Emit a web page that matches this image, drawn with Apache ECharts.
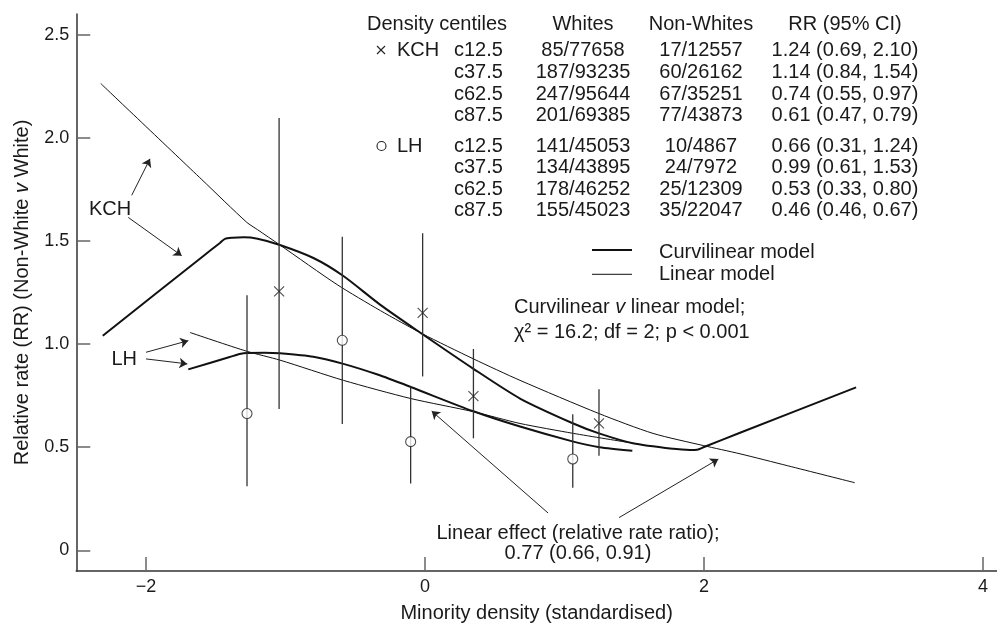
<!DOCTYPE html>
<html><head><meta charset="utf-8">
<script src="https://cdn.jsdelivr.net/npm/echarts@6/dist/echarts.min.js"></script>
<style>html,body{margin:0;padding:0;background:#fff}#c{width:997px;height:628px}</style>
</head><body><div id="c"></div>
<script>
// ---------------- data ----------------
const xTicks = [-2, 0, 2, 4];
const yTicks = [0, 0.5, 1.0, 1.5, 2.0, 2.5];

// KCH observed relative rates (x = density, y = RR) with 95% CI
const kchX  = [-1.046, -0.017, 0.347, 1.247];
const kchRR = [1.255, 1.151, 0.747, 0.615];
const kchLo = [0.685, 0.843, 0.543, 0.459];
const kchHi = [2.095, 1.537, 0.976, 0.781];

// LH observed relative rates with 95% CI
const lhX  = [-1.276, -0.593, -0.103, 1.059];
const lhRR = [0.663, 1.018, 0.527, 0.443];
const lhLo = [0.311, 0.612, 0.324, 0.303];
const lhHi = [1.236, 1.52, 0.79, 0.66];

// Fitted curves
const kchCurvX = [-2.31, -1.6, -1.47, -1.434, -1.38, -1.30, -1.2, -1.04, -0.80, -0.59, -0.32, -0.036, 0.347, 0.681, 1.063, 1.247, 1.49, 1.78, 1.90, 1.95, 2.0, 2.258, 3.09];
const kchCurvY = [1.04, 1.421, 1.49, 1.51, 1.515, 1.517, 1.51, 1.48, 1.417, 1.332, 1.19, 1.056, 0.88, 0.736, 0.615, 0.567, 0.519, 0.492, 0.487, 0.488, 0.501, 0.570, 0.790];

const kchLinX = [-2.325, -1.6, -1.278, -1.2, -1.04, -0.63, -0.32, -0.02, 0.347, 0.681, 1.247, 1.634, 1.995, 2.258, 2.6, 3.08];
const kchLinY = [2.263, 1.797, 1.59, 1.554, 1.48, 1.288, 1.162, 1.05, 0.928, 0.824, 0.663, 0.567, 0.508, 0.468, 0.41, 0.328];

const lhCurvX = [-1.697, -1.40, -1.32, -1.278, -1.15, -1.04, -0.80, -0.585, -0.34, -0.103, 0.347, 0.681, 1.063, 1.25, 1.486];
const lhCurvY = [0.877, 0.937, 0.953, 0.957, 0.958, 0.955, 0.938, 0.904, 0.852, 0.792, 0.674, 0.600, 0.527, 0.500, 0.483];

const lhLinX = [-1.685, -1.278, -1.04, -0.585, -0.103, 0.347, 0.681, 1.063, 1.457];
const lhLinY = [1.056, 0.965, 0.922, 0.824, 0.736, 0.672, 0.615, 0.567, 0.523];

// Annotation arrows (data units): [x1, y1, x2(head), y2(head)]
const arrows = [
  [-2.1025, 1.721, -1.9713, 1.8976],
  [-2.1269, 1.6135, -1.7441, 1.4279],
  [-2.0, 0.9601, -1.6968, 1.0163],
  [-2.0, 0.9279, -1.704, 0.9038],
  [0.8817, 0.1813, 0.048, 0.675],
  [1.3907, 0.1587, 2.1025, 0.4423]
];

// Table
const tableHeader = ['Density centiles', 'Whites', 'Non-Whites', 'RR (95% CI)'];
const centiles = ['c12.5', 'c37.5', 'c62.5', 'c87.5'];
const kchWhites = ['85/77658', '187/93235', '247/95644', '201/69385'];
const kchNonWhites = ['17/12557', '60/26162', '67/35251', '77/43873'];
const kchRRText = ['1.24 (0.69, 2.10)', '1.14 (0.84, 1.54)', '0.74 (0.55, 0.97)', '0.61 (0.47, 0.79)'];
const lhWhites = ['141/45053', '134/43895', '178/46252', '155/45023'];
const lhNonWhites = ['10/4867', '24/7972', '25/12309', '35/22047'];
const lhRRText = ['0.66 (0.31, 1.24)', '0.99 (0.61, 1.53)', '0.53 (0.33, 0.80)', '0.46 (0.46, 0.67)'];

// ---------------- chart ----------------
const FONT = '"Liberation Sans", Arial, sans-serif';
const FS = 20;
const TXT = '#1a1a1a';
const LINE = '#111';
function pairs(xs, ys) { return xs.map((x, i) => [x, ys[i]]); }

const graphics = [];
function txt(x, y, s, align, rich) {
  const style = {
    text: s, fill: TXT, fontFamily: FONT, fontSize: FS,
    align: align || 'left', verticalAlign: 'middle',
    textAlign: align || 'left', textVerticalAlign: 'middle'
  };
  if (rich) style.rich = rich;
  graphics.push({ type: 'text', x: x, y: y, silent: true, style: style });
}
const italicRich = { it: { fontStyle: 'italic', fontFamily: FONT, fontSize: FS, fill: TXT, color: TXT } };

// table header
txt(367, 24, tableHeader[0], 'left');
txt(583, 24, tableHeader[1], 'center');
txt(701, 24, tableHeader[2], 'center');
txt(845, 24, tableHeader[3], 'center');
const kchRowsY = [50, 72, 94, 115];
const lhRowsY = [146, 167.5, 189, 210.5];
txt(397, kchRowsY[0], 'KCH', 'left');
txt(397, lhRowsY[0], 'LH', 'left');
centiles.forEach((c, i) => {
  txt(454, kchRowsY[i], c, 'left');
  txt(583, kchRowsY[i], kchWhites[i], 'center');
  txt(701, kchRowsY[i], kchNonWhites[i], 'center');
  txt(845, kchRowsY[i], kchRRText[i], 'center');
  txt(454, lhRowsY[i], c, 'left');
  txt(583, lhRowsY[i], lhWhites[i], 'center');
  txt(701, lhRowsY[i], lhNonWhites[i], 'center');
  txt(845, lhRowsY[i], lhRRText[i], 'center');
});
// table symbols
graphics.push({ type: 'line', silent: true, shape: { x1: 377, y1: 46, x2: 385, y2: 54 }, style: { stroke: '#222', lineWidth: 1.1 } });
graphics.push({ type: 'line', silent: true, shape: { x1: 385, y1: 46, x2: 377, y2: 54 }, style: { stroke: '#222', lineWidth: 1.1 } });
graphics.push({ type: 'circle', silent: true, shape: { cx: 381.5, cy: 146, r: 4.5 }, style: { fill: '#fff', stroke: '#222', lineWidth: 1.1 } });

// legend
graphics.push({ type: 'line', silent: true, shape: { x1: 592, y1: 250, x2: 632, y2: 250 }, style: { stroke: LINE, lineWidth: 2 } });
graphics.push({ type: 'line', silent: true, shape: { x1: 592, y1: 274.3, x2: 632, y2: 274.3 }, style: { stroke: LINE, lineWidth: 1 } });
txt(659, 252.5, 'Curvilinear model', 'left');
txt(659, 274, 'Linear model', 'left');

// annotations
txt(514, 307.5, 'Curvilinear {it|v} linear model;', 'left', italicRich);
txt(514, 332.5, 'χ² = 16.2; df = 2; p < 0.001', 'left');
txt(578, 533.3, 'Linear effect (relative rate ratio);', 'center');
txt(578, 553.3, '0.77 (0.66, 0.91)', 'center');
txt(89, 209.3, 'KCH', 'left');
txt(111.5, 359, 'LH', 'left');

const errData = [];
kchX.forEach((x, i) => errData.push([x, kchLo[i], kchHi[i]]));
lhX.forEach((x, i) => errData.push([x, lhLo[i], lhHi[i]]));

const option = {
  animation: false,
  backgroundColor: '#fff',
  grid: { left: 76.25, right: 0, top: 13.9, bottom: 52.5, containLabel: false },
  xAxis: {
    type: 'value', min: -2.5, max: 4.1,
    name: 'Minority density (standardised)', nameLocation: 'middle', nameGap: 32,
    nameTextStyle: { fontFamily: FONT, fontSize: FS, color: TXT },
    axisLine: { show: true, onZero: false, lineStyle: { color: '#333', width: 1.5 } },
    axisTick: { show: true, inside: true, length: 14, customValues: xTicks, lineStyle: { color: '#666', width: 1.5 } },
    axisLabel: { show: true, margin: 7, customValues: xTicks, fontFamily: FONT, fontSize: 18, color: TXT,
      formatter: v => (v < 0 ? '\u2212' + Math.abs(v) : String(v)) },
    splitLine: { show: false }
  },
  yAxis: {
    type: 'value', min: -0.1, max: 2.6,
    name: 'Relative rate (RR) (Non-White {it|v} White)', nameLocation: 'middle', nameGap: 44,
    nameTextStyle: { fontFamily: FONT, fontSize: FS, color: TXT, rich: { it: { fontStyle: 'italic', fontFamily: FONT, fontSize: FS, color: TXT } } },
    axisLine: { show: true, onZero: false, lineStyle: { color: '#333', width: 1.5 } },
    axisTick: { show: true, inside: true, length: 14, customValues: yTicks, lineStyle: { color: '#666', width: 1.5 } },
    axisLabel: { show: true, margin: 7, customValues: yTicks, fontFamily: FONT, fontSize: 18, color: TXT,
      formatter: v => (v === 0 ? '0' : v.toFixed(1)) },
    splitLine: { show: false }
  },
  graphic: { elements: graphics },
  series: [
    { name: 'KCH linear', type: 'line', data: pairs(kchLinX, kchLinY), showSymbol: false, smooth: 0.25, silent: true,
      lineStyle: { color: LINE, width: 1 }, z: 2 },
    { name: 'LH linear', type: 'line', data: pairs(lhLinX, lhLinY), showSymbol: false, smooth: 0.25, silent: true,
      lineStyle: { color: LINE, width: 1 }, z: 2 },
    { name: 'KCH curvilinear', type: 'line', data: pairs(kchCurvX, kchCurvY), showSymbol: false, smooth: 0.25, silent: true,
      lineStyle: { color: LINE, width: 2 }, z: 3 },
    { name: 'LH curvilinear', type: 'line', data: pairs(lhCurvX, lhCurvY), showSymbol: false, smooth: 0.25, silent: true,
      lineStyle: { color: LINE, width: 2 }, z: 3 },
    { name: 'CI', type: 'custom', data: errData, silent: true, z: 4,
      encode: { x: 0, y: [1, 2] },
      renderItem: (params, api) => {
        const p1 = api.coord([api.value(0), api.value(1)]);
        const p2 = api.coord([api.value(0), api.value(2)]);
        return { type: 'line', shape: { x1: p1[0], y1: p1[1], x2: p2[0], y2: p2[1] }, style: { stroke: '#333', lineWidth: 1.3 } };
      } },
    { name: 'KCH', type: 'scatter', data: pairs(kchX, kchRR), symbol: 'path://M0,0L10,10M10,0L0,10', symbolSize: 10, silent: true, z: 5,
      itemStyle: { color: 'rgba(0,0,0,0)', borderColor: '#222', borderWidth: 1.1 } },
    { name: 'LH', type: 'scatter', data: pairs(lhX, lhRR), symbol: 'circle', symbolSize: 10, silent: true, z: 6,
      itemStyle: { color: '#fff', borderColor: '#222', borderWidth: 1.1 } },
    { name: 'Arrows', type: 'line', data: [], silent: true, z: 7,
      markLine: {
        silent: true, symbol: ['none', 'arrow'], symbolSize: 8, precision: 4,
        label: { show: false }, emphasis: { disabled: true },
        lineStyle: { color: '#222', width: 1, type: 'solid' },
        data: arrows.map(a => [{ coord: [a[0], a[1]] }, { coord: [a[2], a[3]] }])
      } }
  ]
};
const chart = echarts.init(document.getElementById('c'));
chart.setOption(option);
</script>
</body></html>
